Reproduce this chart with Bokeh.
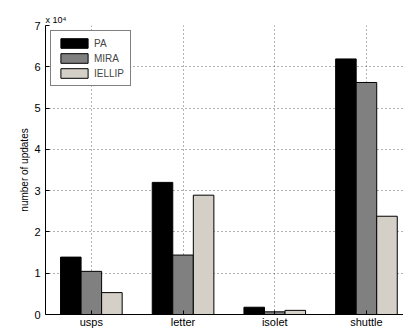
from bokeh.plotting import figure
from bokeh.models import Range1d, FixedTicker, Legend, LegendItem, ColumnDataSource, Title
from bokeh.embed import file_html
from bokeh.resources import INLINE

categories = ["usps", "letter", "isolet", "shuttle"]
pa = [13900, 32000, 1760, 61900]
mira = [10450, 14400, 650, 56200]
iellip = [5300, 28900, 1000, 23800]
series_names = ["PA", "MIRA", "IELLIP"]
colors = ["#000000", "#808080", "#d4d0c8"]
y_ticks = [0, 1, 2, 3, 4, 5, 6, 7]
exponent = 4
scale = 10 ** exponent

FONT = "Liberation Sans"
bar_w = 0.224
offsets = [-bar_w, 0.0, bar_w]
xpos = [i + 1 for i in range(len(categories))]

p = figure(width=403, height=330, output_backend="svg", toolbar_location=None,
           x_range=Range1d(0.5, 4.404), y_range=Range1d(0, 7),
           min_border_left=45, min_border_right=0, min_border_top=25, min_border_bottom=15)
p.outline_line_color = None
p.background_fill_color = "white"

renderers = []
for name, vals, col, off in zip(series_names, [pa, mira, iellip], colors, offsets):
    src = ColumnDataSource(dict(x=[x + off for x in xpos], top=[v / scale for v in vals]))
    r = p.vbar(x="x", top="top", width=bar_w, source=src, fill_color=col,
               line_color="#000000", line_width=1)
    renderers.append((name, r))

# axes
p.xaxis.ticker = FixedTicker(ticks=xpos)
p.xaxis.major_label_overrides = {x: c for x, c in zip(xpos, categories)}
p.yaxis.ticker = FixedTicker(ticks=y_ticks)
for ax in (p.xaxis, p.yaxis):
    ax.major_label_text_font = FONT
    ax.major_label_text_font_size = "11px"
    ax.major_label_text_color = "#000000"
    ax.axis_line_color = "#000000"
    ax.major_tick_in = 4
    ax.major_tick_out = 0
    ax.minor_tick_line_color = None
    ax.major_tick_line_color = "#000000"
p.xaxis.major_label_standoff = 1
p.yaxis.major_label_standoff = 5
p.yaxis.axis_label = "number of updates"
p.yaxis.axis_label_text_font = FONT
p.yaxis.axis_label_text_font_size = "10px"
p.yaxis.axis_label_text_font_style = "normal"
p.yaxis.axis_label_text_color = "#000000"
p.yaxis.axis_label_standoff = 1

# grid
p.xgrid.ticker = FixedTicker(ticks=xpos)
p.ygrid.ticker = FixedTicker(ticks=y_ticks)
for g in (p.xgrid, p.ygrid):
    g.grid_line_color = "#666666"
    g.grid_line_dash = "1 3"
    g.grid_line_width = 1

# exponent label
p.add_layout(Title(text="x 10\u2074", align="left", offset=0, standoff=2,
                   text_font=FONT, text_font_size="9px", text_font_style="normal",
                   text_color="#000000"), "above")

legend = Legend(items=[LegendItem(label=n, renderers=[r]) for n, r in renderers],
                location="top_left")
legend.margin = 5
legend.padding = 6
legend.spacing = 3
legend.glyph_width = 34
legend.glyph_height = 12
legend.label_standoff = 3
legend.label_text_font = FONT
legend.label_text_font_size = "10px"
legend.label_height = 12
legend.border_line_color = "#000000"
legend.border_line_width = 1.5
legend.background_fill_alpha = 1
p.add_layout(legend)

open("out.html", "w").write(file_html(p, INLINE))
